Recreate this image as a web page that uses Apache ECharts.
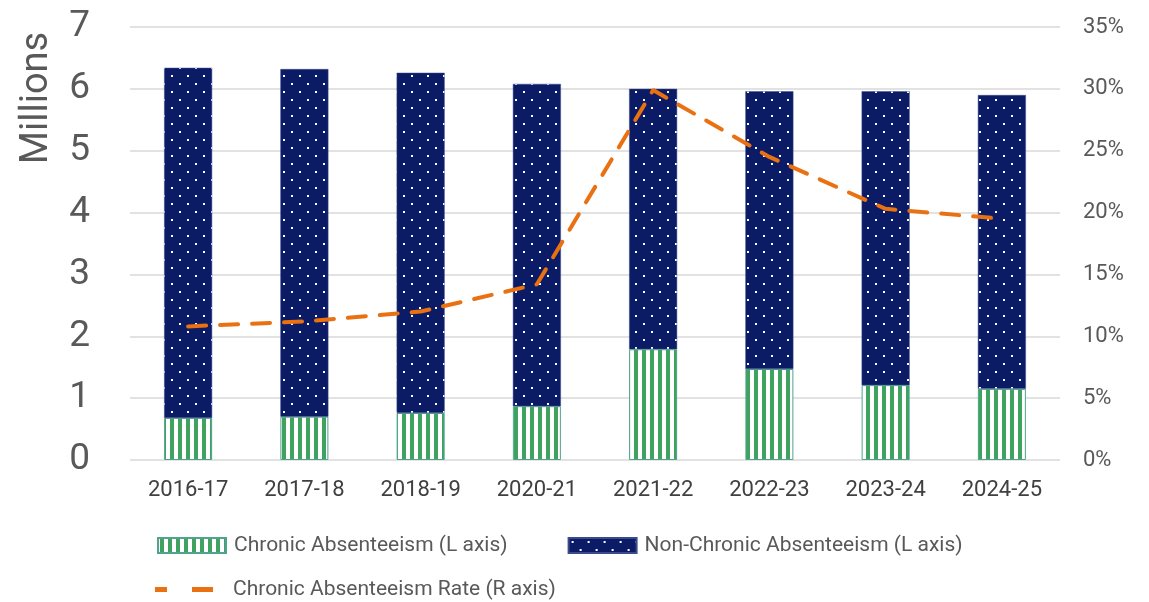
<!DOCTYPE html>
<html>
<head>
<meta charset="utf-8">
<script src="https://cdn.jsdelivr.net/npm/echarts@6/dist/echarts.min.js"></script>
<style>
  html, body { margin: 0; padding: 0; background: #fff; }
  #chart { width: 1149px; height: 602px; }
</style>
</head>
<body>
<div id="chart"></div>
<script>
const years = ["2016-17", "2017-18", "2018-19", "2020-21", "2021-22", "2022-23", "2023-24", "2024-25"];
// millions of students
const chronic = [0.68, 0.70, 0.76, 0.87, 1.79, 1.47, 1.21, 1.15];
const nonChronic = [5.66, 5.62, 5.50, 5.21, 4.21, 4.49, 4.75, 4.75];
// percent
const rate = [10.8, 11.2, 12.0, 14.2, 29.9, 24.5, 20.3, 19.5];

const names = {
    chronic: "Chronic Absenteeism (L axis)",
    nonChronic: "Non-Chronic Absenteeism (L axis)",
    rate: "Chronic Absenteeism Rate (R axis)",
};

const FONT = "Roboto, 'Noto Sans', sans-serif";
const GREY = "#595959";
const ORANGE = "#e97112";

// green vertical stripes
function stripePattern() {
    const c = document.createElement("canvas");
    c.width = 8; c.height = 8;
    const g = c.getContext("2d");
    g.fillStyle = "#ffffff";
    g.fillRect(0, 0, 8, 8);
    g.fillStyle = "#3fa35f";
    g.fillRect(2, 0, 4, 8);
    return c;
}

// navy with small white dots on a staggered grid
function dotPattern() {
    const c = document.createElement("canvas");
    c.width = 16; c.height = 16;
    const g = c.getContext("2d");
    g.fillStyle = "#0c1b66";
    g.fillRect(0, 0, 16, 16);
    g.fillStyle = "#ffffff";
    g.fillRect(3, 3, 2, 2);
    g.fillRect(11, 11, 2, 2);
    return c;
}

const chart = echarts.init(document.getElementById("chart"));

chart.setOption({
    backgroundColor: "#ffffff",
    animation: false,
    textStyle: { fontFamily: FONT },
    grid: { left: 130, right: 89, top: 27, bottom: 142 },
    // "Millions" sits up by the top of the left axis, rotated
    graphic: [{
        type: "text",
        x: 37,
        y: 98,
        rotation: Math.PI / 2,
        style: {
            text: "Millions",
            fill: GREY,
            font: "38px " + FONT,
            textAlign: "center",
            textVerticalAlign: "middle",
        },
    }],
    legend: [
        {
            data: [names.chronic, names.nonChronic],
            left: 157,
            top: 535,
            padding: 0,
            icon: "rect",
            itemWidth: 68,
            itemHeight: 15,
            itemGap: 60,
            textStyle: { color: GREY, fontSize: 21, fontFamily: FONT, padding: [0, 0, 0, 3] },
        },
        {
            data: [{ name: names.rate, icon: "path://M0,0 H12 V5 H0 Z M37,0 H58 V5 H37 Z" }],
            left: 155,
            top: 579,
            padding: 0,
            itemWidth: 58,
            itemHeight: 5,
            textStyle: { color: GREY, fontSize: 21, fontFamily: FONT, padding: [0, 0, 0, 15] },
        },
    ],
    xAxis: {
        type: "category",
        data: years,
        axisLine: { show: false },
        axisTick: { show: false },
        axisLabel: { color: "#404040", fontSize: 22, margin: 19, fontFamily: FONT },
    },
    yAxis: [
        {
            type: "value",
            min: 0,
            max: 7,
            interval: 1,
            axisLine: { show: false },
            axisTick: { show: false },
            axisLabel: { color: GREY, fontSize: 37, margin: 40, fontFamily: FONT },
            splitLine: { lineStyle: { color: "#d9d9d9", width: 1.5 } },
        },
        {
            type: "value",
            min: 0,
            max: 35,
            interval: 5,
            position: "right",
            axisLine: { show: false },
            axisTick: { show: false },
            axisLabel: { color: GREY, fontSize: 22, margin: 23, formatter: "{value}%", fontFamily: FONT },
            splitLine: { show: false },
        },
    ],
    series: [
        {
            name: names.chronic,
            type: "bar",
            stack: "students",
            barWidth: 48,
            data: chronic,
            itemStyle: {
                color: { image: stripePattern(), repeat: "repeat" },
                borderColor: "#4fa38f",
                borderWidth: 1,
            },
        },
        {
            name: names.nonChronic,
            type: "bar",
            stack: "students",
            barWidth: 48,
            data: nonChronic,
            itemStyle: {
                color: { image: dotPattern(), repeat: "repeat" },
                borderColor: "#3a4a8a",
                borderWidth: 0.5,
            },
        },
        {
            name: names.rate,
            type: "line",
            yAxisIndex: 1,
            data: rate,
            symbol: "none",
            z: 10,
            lineStyle: { color: ORANGE, width: 4, type: [18, 14], cap: "round" },
            itemStyle: { color: ORANGE },
        },
    ],
});
</script>
</body>
</html>
